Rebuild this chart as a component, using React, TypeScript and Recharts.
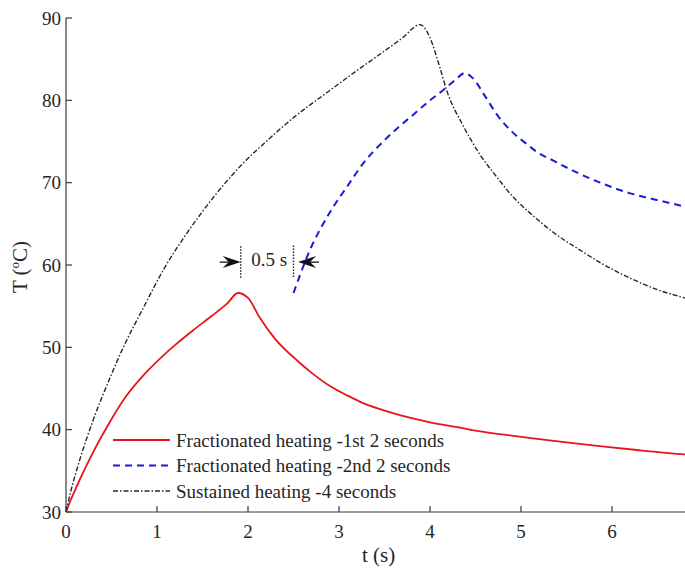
import { LineChart, Line, XAxis, YAxis, ReferenceLine, ReferenceDot } from "recharts";

// time (s) and temperature (°C)
const tFrac1 = [0, 0.05, 0.15, 0.3, 0.48, 0.67, 0.85, 1.03, 1.2, 1.4, 1.6, 1.77, 1.89, 2.0, 2.13, 2.3, 2.54, 2.7, 2.9, 3.1, 3.27, 3.45, 3.63, 3.8, 4.0, 4.3, 4.55, 4.85, 5.13, 5.5, 5.87, 6.3, 6.8, 7.0];
const TFrac1 = [30, 31.4, 33.9, 37.3, 40.9, 44.2, 46.6, 48.6, 50.3, 52.1, 53.8, 55.3, 56.6, 56.0, 53.6, 51.0, 48.4, 46.9, 45.3, 44.1, 43.2, 42.5, 41.9, 41.4, 40.9, 40.3, 39.8, 39.35, 38.95, 38.45, 38.0, 37.5, 37.0, 36.85];

const tFrac2 = [2.5, 2.68, 2.9, 3.1, 3.27, 3.45, 3.63, 3.81, 4.0, 4.14, 4.28, 4.38, 4.47, 4.6, 4.74, 4.9, 5.05, 5.18, 5.35, 5.6, 5.87, 6.2, 6.53, 6.8, 7.0];
const TFrac2 = [56.6, 61.8, 66.4, 69.7, 72.4, 74.6, 76.5, 78.2, 80.0, 81.2, 82.5, 83.3, 82.7, 80.6, 78.2, 76.2, 74.8, 73.7, 72.7, 71.3, 70.0, 68.7, 67.8, 67.1, 66.6];

const tSust = [0, 0.05, 0.15, 0.3, 0.48, 0.63, 0.85, 1.08, 1.3, 1.5, 1.73, 1.95, 2.2, 2.5, 2.85, 3.12, 3.45, 3.7, 3.89, 4.0, 4.1, 4.19, 4.36, 4.55, 4.74, 4.91, 5.1, 5.35, 5.65, 5.9, 6.2, 6.5, 6.8, 7.0];
const TSust = [30, 32.4, 36.3, 41.2, 46.2, 50.0, 54.8, 59.6, 63.4, 66.5, 69.7, 72.4, 75.0, 77.9, 80.8, 83.0, 85.6, 87.6, 89.2, 87.6, 84.3, 81.0, 77.0, 73.4, 70.6, 68.3, 66.3, 64.0, 61.8, 60.1, 58.4, 57.0, 56.0, 55.4];

const xTicks = [0, 1, 2, 3, 4, 5, 6];
const yTicks = [30, 40, 50, 60, 70, 80, 90];

const seriesNames = [
  "Fractionated heating -1st 2 seconds",
  "Fractionated heating -2nd 2 seconds",
  "Sustained heating -4 seconds",
];

// "0.5 s" gap annotation (data units)
const gapStart = 1.92;
const gapEnd = 2.5;
const gapLevel = 60.35;

const toPoints = (ts: number[], vs: number[]) => ts.map((t, i) => ({ t, T: vs[i] }));
const frac1 = toPoints(tFrac1, TFrac1);
const frac2 = toPoints(tFrac2, TFrac2);
const sust = toPoints(tSust, TSust);

const FONT = "Liberation Serif";
const AXIS = "#3a3a3a";
const TEXT = "#262626";

const styles = [
  { color: "#e8141b", dash: undefined as string | undefined, width: 1.8 },
  { color: "#1b1bd8", dash: "7 5", width: 2 },
  { color: "#262626", dash: "5 2 1.5 2", width: 1.4 },
];

const BottomTick = ({ x, y, payload }: any) => (
  <g>
    <line x1={x} x2={x} y1={y} y2={y - 6} stroke={AXIS} strokeWidth={1.2} />
    <text x={x} y={y + 26} textAnchor="middle" fontFamily={FONT} fontSize={19} fill={TEXT}>
      {payload.value}
    </text>
  </g>
);

const TopTick = ({ x, y }: any) => (
  <line x1={x} x2={x} y1={y} y2={y + 6} stroke={AXIS} strokeWidth={1.2} />
);

const LeftTick = ({ x, y, payload }: any) => (
  <g>
    <line x1={x} x2={x + 6} y1={y} y2={y} stroke={AXIS} strokeWidth={1.2} />
    <text x={x - 5} y={y + 6.5} textAnchor="end" fontFamily={FONT} fontSize={19} fill={TEXT}>
      {payload.value}
    </text>
  </g>
);

const Arrow = ({ cx, cy, dir }: any) => (
  <g>
    <line x1={cx - 12 * dir} x2={cx - 21 * dir} y1={cy} y2={cy} stroke="#111" strokeWidth={1.3} />
    <polygon
      points={`${cx},${cy} ${cx - 18 * dir},${cy - 6} ${cx - 12 * dir},${cy} ${cx - 18 * dir},${cy + 6}`}
      fill="#111"
    />
  </g>
);

export default function App() {
  return (
    <div
      style={{
        position: "fixed",
        left: 0,
        top: 0,
        width: 685,
        height: 570,
        overflow: "hidden",
        background: "#fff",
        fontFamily: FONT,
      }}
    >
      <LineChart width={720} height={570} margin={{ top: 18, right: 17, left: 0, bottom: 0 }}>
        <XAxis
          xAxisId="b"
          dataKey="t"
          type="number"
          domain={[0, 7]}
          ticks={xTicks}
          allowDataOverflow
          height={58}
          tickSize={0}
          tickMargin={0}
          tickLine={false}
          axisLine={{ stroke: AXIS, strokeWidth: 1.2 }}
          tick={<BottomTick />}
          label={(p: any) => {
            const vb = p.viewBox;
            return (
              <text x={vb.x + vb.width / 2 - 6} y={vb.y + 50} textAnchor="middle" fontFamily={FONT} fontSize={21} fill={TEXT}>
                t (s)
              </text>
            );
          }}
        />
        <XAxis
          xAxisId="top"
          orientation="top"
          dataKey="t"
          type="number"
          domain={[0, 7]}
          ticks={xTicks}
          height={0}
          tickSize={0}
          tickMargin={0}
          tickLine={false}
          axisLine={{ stroke: AXIS, strokeWidth: 1.2 }}
          tick={<TopTick />}
        />
        <YAxis
          dataKey="T"
          type="number"
          domain={[30, 90]}
          ticks={yTicks}
          width={66}
          tickSize={0}
          tickMargin={0}
          tickLine={false}
          axisLine={{ stroke: AXIS, strokeWidth: 1.2 }}
          tick={<LeftTick />}
          label={(p: any) => {
            const vb = p.viewBox;
            const cx = 27;
            const cy = vb.y + vb.height / 2 + 2;
            return (
              <text transform={`translate(${cx},${cy}) rotate(-90)`} textAnchor="middle" fontFamily={FONT} fontSize={21} fill={TEXT}>
                T (
                <tspan fontSize={13} dy={-8}>o</tspan>
                <tspan dy={8}>C)</tspan>
              </text>
            );
          }}
        />

        <Line xAxisId="b" data={frac1} dataKey="T" name={seriesNames[0]} type="monotone" stroke={styles[0].color} strokeWidth={styles[0].width} dot={false} isAnimationActive={false} />
        <Line xAxisId="b" data={frac2} dataKey="T" name={seriesNames[1]} type="monotone" stroke={styles[1].color} strokeWidth={styles[1].width} strokeDasharray={styles[1].dash} dot={false} isAnimationActive={false} />
        <Line xAxisId="b" data={sust} dataKey="T" name={seriesNames[2]} type="monotone" stroke={styles[2].color} strokeWidth={styles[2].width} strokeDasharray={styles[2].dash} dot={false} isAnimationActive={false} />

        <ReferenceLine xAxisId="b" segment={[{ x: gapStart, y: gapLevel - 1.9 }, { x: gapStart, y: gapLevel + 2.1 }]} stroke="#222" strokeWidth={1.4} strokeDasharray="1.5 1.5" />
        <ReferenceLine xAxisId="b" segment={[{ x: gapEnd, y: gapLevel - 1.8 }, { x: gapEnd, y: gapLevel + 2.2 }]} stroke="#222" strokeWidth={1.4} strokeDasharray="1.5 1.5" />
        <ReferenceDot xAxisId="b" x={gapStart} y={gapLevel} r={0} shape={(p: any) => <Arrow {...p} dir={1} />} />
        <ReferenceDot xAxisId="b" x={gapEnd + 0.05} y={gapLevel} r={0} shape={(p: any) => <Arrow {...p} dir={-1} />} />
        <ReferenceDot
          xAxisId="b"
          x={(gapStart + gapEnd) / 2}
          y={gapLevel}
          r={0}
          shape={(p: any) => (
            <text x={p.cx + 2} y={p.cy + 4} textAnchor="middle" fontFamily={FONT} fontSize={19} fill={TEXT}>
              0.5 s
            </text>
          )}
        />
      </LineChart>

      <svg style={{ position: "absolute", left: 0, top: 0 }} width={685} height={570} pointerEvents="none">
        {seriesNames.map((name, i) => {
          const y = 440 + i * 25.5;
          return (
            <g key={name}>
              <line x1={113} x2={170} y1={y} y2={y} stroke={styles[i].color} strokeWidth={styles[i].width} strokeDasharray={styles[i].dash} />
              <text x={176} y={y + 6.5} fontFamily={FONT} fontSize={19} fill={TEXT}>
                {name}
              </text>
            </g>
          );
        })}
      </svg>
    </div>
  );
}
